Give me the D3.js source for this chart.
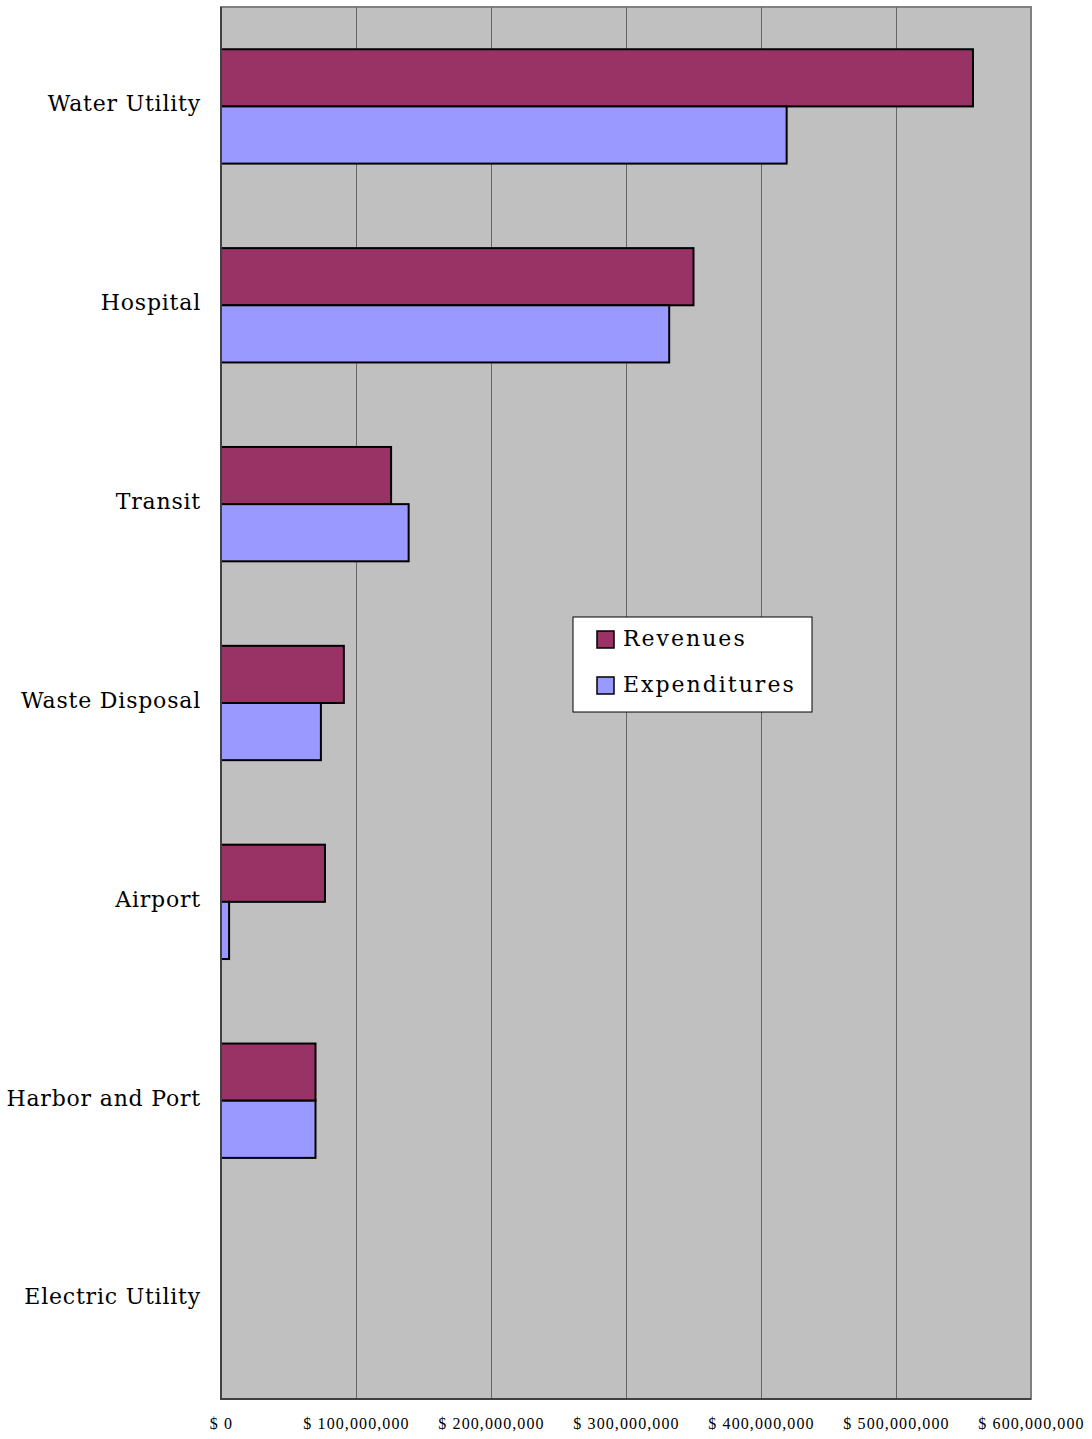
<!DOCTYPE html>
<html>
<head>
<meta charset="utf-8">
<script src="https://cdn.jsdelivr.net/npm/d3@7"></script>
<style>
  html, body { margin: 0; padding: 0; background: #ffffff; }
  svg { display: block; }
</style>
</head>
<body>
<svg id="chart" width="1092" height="1439"></svg>
<script>
const categories = ["Water Utility", "Hospital", "Transit", "Waste Disposal", "Airport", "Harbor and Port", "Electric Utility"];
const revenues = [557000000, 350000000, 126000000, 91000000, 77000000, 70000000, 0];
const expenditures = [419000000, 332000000, 139000000, 74000000, 6000000, 70000000, 0];
const seriesNames = ["Revenues", "Expenditures"];
const seriesColors = ["#993366", "#9999ff"];
const tickValues = [0, 100000000, 200000000, 300000000, 400000000, 500000000, 600000000];

(function () {
const svg = d3.select("#chart");
const pLeft = 221, pRight = 1031, pTop = 7, pBottom = 1399;

const x = d3.scaleLinear().domain([0, 600000000]).range([pLeft, pRight]);
const y = d3.scaleBand().domain(categories).range([pTop, pBottom]).paddingInner(0).paddingOuter(0);
const barH = y.step() * 0.2875;

// plot background
svg.append("rect").attr("x", pLeft).attr("y", pTop).attr("width", pRight - pLeft).attr("height", pBottom - pTop)
  .attr("fill", "#c0c0c0").attr("stroke", "#808080").attr("stroke-width", 2);

// gridlines
svg.append("g").selectAll("line").data(tickValues.slice(1, -1)).join("line")
  .attr("x1", d => Math.round(x(d)) + 0.5).attr("x2", d => Math.round(x(d)) + 0.5)
  .attr("y1", pTop).attr("y2", pBottom)
  .attr("stroke", "#666666").attr("stroke-width", 1);

// bars
categories.forEach((c, i) => {
  const cy = y(c) + y.bandwidth() / 2;
  [revenues[i], expenditures[i]].forEach((v, s) => {
    if (v <= 0) return;
    svg.append("rect")
      .attr("x", x(0))
      .attr("y", s === 0 ? cy - barH : cy)
      .attr("width", x(v) - x(0))
      .attr("height", barH)
      .attr("fill", seriesColors[s])
      .attr("stroke", "#000000")
      .attr("stroke-width", 2);
  });
});

// axes lines
svg.append("line").attr("x1", pLeft).attr("x2", pLeft).attr("y1", pTop).attr("y2", pBottom + 1)
  .attr("stroke", "#404040").attr("stroke-width", 2);
svg.append("line").attr("x1", pLeft - 1).attr("x2", pRight).attr("y1", pBottom).attr("y2", pBottom)
  .attr("stroke", "#404040").attr("stroke-width", 2);

// y labels
const yAxis = d3.axisLeft(y).tickSize(0).tickPadding(20);
const gy = svg.append("g").attr("transform", `translate(${pLeft},0)`).call(yAxis);
gy.select(".domain").remove();
gy.selectAll("text").attr("font-family", "DejaVu Serif").attr("font-size", 22)
  .attr("letter-spacing", 0.8).attr("dy", "0.22em").attr("fill", "#000");

// x labels
const fmt = d3.format(",");
const xAxis = d3.axisBottom(x).tickValues(tickValues).tickSize(0).tickPadding(19)
  .tickFormat(d => "$ " + fmt(d));
const gx = svg.append("g").attr("transform", `translate(0,${pBottom})`).call(xAxis);
gx.select(".domain").remove();
gx.selectAll("text").attr("font-family", "Liberation Serif").attr("font-size", 16)
  .attr("letter-spacing", 1.1).attr("fill", "#000");

// legend
const lg = svg.append("g");
lg.append("rect").attr("x", 573).attr("y", 617).attr("width", 239).attr("height", 95)
  .attr("fill", "#ffffff").attr("stroke", "#000000").attr("stroke-width", 1);
seriesNames.forEach((n, i) => {
  const yy = 631 + i * 46;
  lg.append("rect").attr("x", 597).attr("y", yy).attr("width", 17).attr("height", 17)
    .attr("fill", seriesColors[i]).attr("stroke", "#000").attr("stroke-width", 1.5);
  lg.append("text").attr("x", 623).attr("y", yy + 15).text(n)
    .attr("font-family", "DejaVu Serif").attr("font-size", 22).attr("letter-spacing", 2).attr("fill", "#000");
});
})();
</script>
</body>
</html>
